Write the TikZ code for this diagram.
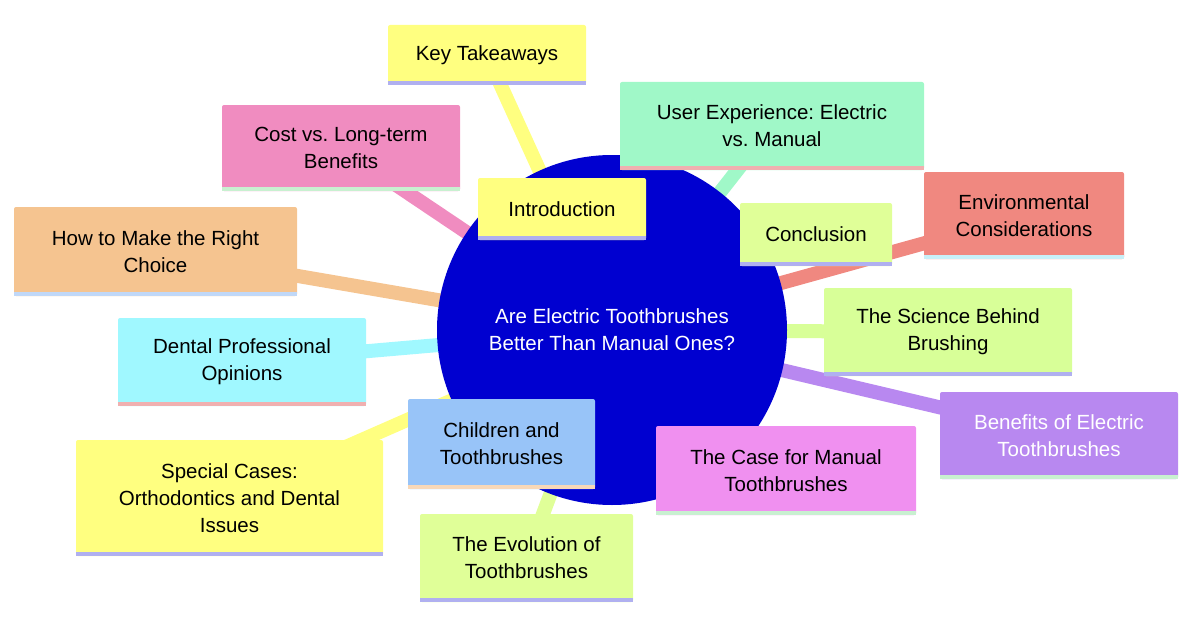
\documentclass[tikz,border=0pt]{standalone}
\usepackage{fontspec}
\setmainfont{Liberation Sans}
\frenchspacing
\pgfdeclarelayer{lnk}\pgfdeclarelayer{circ}
\pgfsetlayers{lnk,circ,main}
\definecolor{cy}{HTML}{FFFF80}\definecolor{cpink}{HTML}{F08CC0}
\definecolor{cmint}{HTML}{A0F8C8}\definecolor{clime}{HTML}{E0FF98}
\definecolor{csalmon}{HTML}{F08880}\definecolor{corange}{HTML}{F5C490}
\definecolor{clime2}{HTML}{D8FF98}\definecolor{ccyan}{HTML}{A0F8FF}
\definecolor{cpurple}{HTML}{B888F0}\definecolor{cblue}{HTML}{98C4F8}
\definecolor{cmag}{HTML}{F090F0}\definecolor{clav}{HTML}{B0B0F0}
\definecolor{clgreen}{HTML}{C8F0D0}\definecolor{clblue}{HTML}{C0D8F8}
\definecolor{clcyan}{HTML}{C8F0F8}\definecolor{crose}{HTML}{F0B0B0}
\definecolor{cpeach}{HTML}{F8D8B8}\definecolor{ccore}{HTML}{0000D0}
\tikzset{mmbox/.style={rectangle,rounded corners=2pt,inner sep=0pt,align=center,
  font=\fontsize{20.5}{27}\selectfont},
  mmlink/.style={line width=14pt}}
\newcommand{\mmnode}[9]{%
 \node[mmbox,fill=#6,minimum width={(#4-#2)*1pt},minimum height={(#5-#3)*1pt},text=#9]
   (#1) at ({(#2+#4)/2},{(#3+#5)/2}) {#8};
 \fill[#7] (#1.south west) rectangle ([yshift=4pt]#1.south east);
 \begin{pgfonlayer}{lnk}\draw[mmlink,#6] (#1.center) -- (c);\end{pgfonlayer}}
\begin{document}
\begin{tikzpicture}[x=1pt,y=-1pt]
\useasboundingbox (0,0) rectangle (1200,626);
\coordinate (c) at (612,330);
\begin{pgfonlayer}{circ}
\node[circle,fill=ccore,minimum size=350pt,inner sep=0pt,text=white,align=center,
  font=\fontsize{20.5}{27}\selectfont] (core) at (c) {Are Electric Toothbrushes\\Better Than Manual Ones?};
\end{pgfonlayer}
\mmnode{kt}{388}{25}{586}{85}{cy}{clav}{Key Takeaways}{black}
\mmnode{cost}{222}{105}{460}{191}{cpink}{clgreen}{Cost vs. Long-term\\Benefits}{black}
\mmnode{ue}{620}{82}{924}{170}{cmint}{crose}{User Experience: Electric\\vs. Manual}{black}
\mmnode{env}{924}{172}{1124}{259}{csalmon}{clcyan}{Environmental\\Considerations}{black}
\mmnode{how}{14}{207}{297}{296}{corange}{clblue}{How to Make the Right\\Choice}{black}
\mmnode{sci}{824}{288}{1072}{376}{clime2}{clav}{The Science Behind\\Brushing}{black}
\mmnode{den}{118}{318}{366}{406}{ccyan}{crose}{Dental Professional\\Opinions}{black}
\mmnode{ben}{940}{392}{1178}{479}{cpurple}{clgreen}{Benefits of Electric\\Toothbrushes}{white}
\mmnode{cas}{656}{426}{916}{515}{cmag}{clgreen}{The Case for Manual\\Toothbrushes}{black}
\mmnode{spe}{76}{440}{383}{556}{cy}{clav}{Special Cases:\\Orthodontics and Dental\\Issues}{black}
\mmnode{evo}{420}{514}{633}{602}{clime}{clav}{The Evolution of\\Toothbrushes}{black}
\mmnode{intro}{478}{178}{646}{240}{cy}{clav}{Introduction}{black}
\mmnode{con}{740}{203}{892}{266}{clime}{clav}{Conclusion}{black}
\mmnode{chi}{408}{399}{595}{489}{cblue}{cpeach}{Children and\\Toothbrushes}{black}
\end{tikzpicture}
\end{document}
